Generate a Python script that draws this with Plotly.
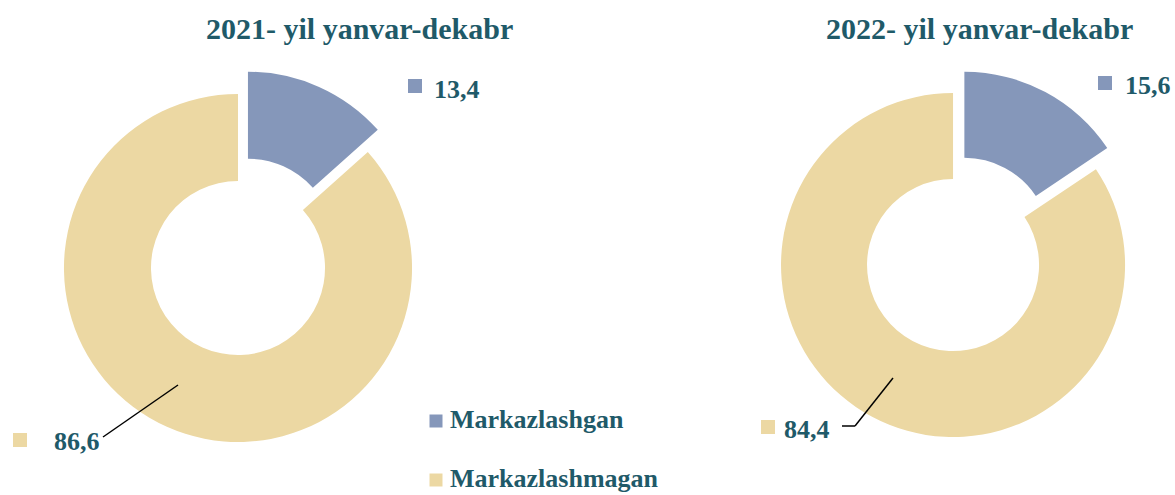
import plotly.graph_objects as go

# ma'lumotlar
labels = ["Markazlashgan", "Markazlashmagan"]
titles = ["2021- yil yanvar-dekabr", "2022- yil yanvar-dekabr"]
values_2021 = [13.4, 86.6]
values_2022 = [15.6, 84.4]
colors = ["#8597BA", "#ECD8A3"]

W, H = 1175, 495
TEXT_COLOR = "#1F5A69"
FONT = "Liberation Serif"


def px(x, y):
    """piksel -> paper koordinatalar"""
    return x / W, 1 - y / H


def square(cx, cy, color, half=7):
    x0, y0 = px(cx - half, cy - half)
    x1, y1 = px(cx + half, cy + half)
    fig.add_shape(type="rect", xref="paper", yref="paper",
                  x0=x0, y0=y0, x1=x1, y1=y1, fillcolor=color, line=dict(width=0))


def text_at(text, tx, ty, size, anchor="left"):
    x, y = px(tx, ty)
    fig.add_annotation(text=text, x=x, y=y, xref="paper", yref="paper",
                       showarrow=False, xanchor=anchor, yanchor="middle",
                       font=dict(family=FONT, size=size, color=TEXT_COLOR, weight="bold"))


fig = go.Figure()

domains = [
    dict(x=[0.0337, 0.3714], y=[0.0578, 0.8594]),
    dict(x=[0.6442, 0.9780], y=[0.0684, 0.8608]),
]
for vals, dom in zip([values_2021, values_2022], domains):
    fig.add_trace(go.Pie(
        labels=labels,
        values=vals,
        hole=0.5,
        pull=[0.14, 0],
        sort=False,
        direction="clockwise",
        rotation=0,
        marker=dict(colors=colors, line=dict(width=0)),
        textinfo="none",
        hoverinfo="label+value",
        showlegend=False,
        domain=dom,
    ))

# sarlavhalar
for title, cx in zip(titles, [359, 979]):
    text_at(title, cx, 28, 30, anchor="center")


def fmt(v):
    return f"{v:.1f}".replace(".", ",")


# qiymat yorliqlari: (qiymat, rang, marker markazi, matn chap chekkasi)
label_spots = [
    (values_2021[0], colors[0], (415, 86), (432, 89)),
    (values_2021[1], colors[1], (20, 440), (52, 441)),
    (values_2022[0], colors[0], (1105, 83), (1123, 85)),
    (values_2022[1], colors[1], (768, 427), (782, 429)),
]
for val, col, (mx, my), (tx, ty) in label_spots:
    square(mx, my, col)
    text_at(fmt(val), tx, ty, 26)

# yo'naltiruvchi chiziqlar
leaders = [
    [(103, 437), (178, 385)],
    [(842, 426), (855, 426), (893, 378)],
]
for pts in leaders:
    for (ax, ay), (bx, by) in zip(pts[:-1], pts[1:]):
        x0, y0 = px(ax, ay)
        x1, y1 = px(bx, by)
        fig.add_shape(type="line", xref="paper", yref="paper",
                      x0=x0, y0=y0, x1=x1, y1=y1, line=dict(color="black", width=1.5))

# legenda (qo'lda, chetlarni surmasligi uchun)
for (lab, col), ly in zip(zip(labels, colors), [419, 478]):
    square(436, ly + 2, col, half=6.5)
    text_at(lab, 448, ly, 26)

fig.update_layout(
    width=W, height=H,
    margin=dict(l=0, r=0, t=0, b=0),
    paper_bgcolor="white",
    plot_bgcolor="white",
    showlegend=False,
)

# brauzerning standart 8px body chetini olib tashlash
fig.write_html("out.html", config={"displayModeBar": False},
               post_script="document.body.style.margin='0';")
